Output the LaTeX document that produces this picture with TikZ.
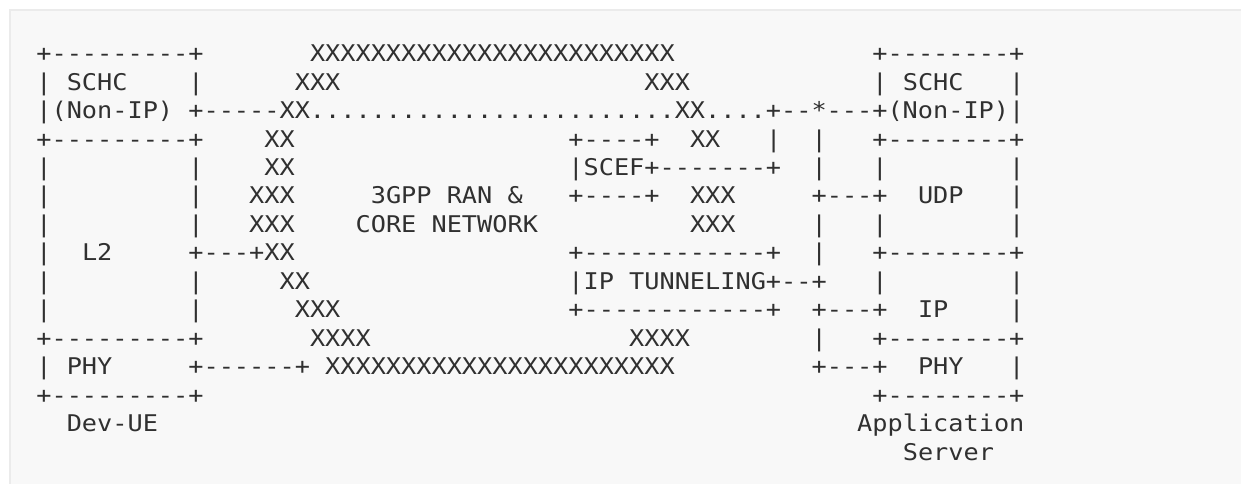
\documentclass[tikz,border=0pt]{standalone}
\usepackage{fontspec}
\setmonofont{DejaVu Sans Mono}[FakeStretch=1.0977]
\definecolor{fg}{HTML}{303030}
\definecolor{bg}{HTML}{F8F8F8}
\definecolor{frame}{HTML}{EBEBEB}
\tikzset{
  txt/.style={anchor=base west, inner sep=0pt, outer sep=0pt, text=fg,
    font=\ttfamily\fontsize{23}{28}\selectfont},
}
\newcommand\asc[4]{\node[txt] (#1) at ({36.4+15.2*#3},{61.7+28.45*(#2-1)}) {#4};}
\begin{document}
\begin{tikzpicture}[x=1pt,y=-1pt]
\path[use as bounding box] (0,0) rectangle (1241,484);
\fill[white] (0,0) rectangle (1241,484);
\draw[frame, line width=1.5pt, fill=bg] (10,10) rectangle (1260,500);
% row 1
\asc{a1}{1}{0}{+---------+}
\asc{b1}{1}{18}{XXXXXXXXXXXXXXXXXXXXXXXX}
\asc{c1}{1}{55}{+--------+}
% row 2
\asc{a2}{2}{0}{| SCHC}
\asc{a2r}{2}{10}{|}
\asc{b2}{2}{17}{XXX}
\asc{c2}{2}{40}{XXX}
\asc{d2}{2}{55}{| SCHC}
\asc{d2r}{2}{64}{|}
% row 3
\asc{a3}{3}{0}{|(Non-IP) +-----XX........................XX....+--*---+(Non-IP)|}
% row 4
\asc{a4}{4}{0}{+---------+}
\asc{b4}{4}{15}{XX}
\asc{c4}{4}{35}{+----+}
\asc{d4}{4}{43}{XX}
\asc{e4}{4}{48}{|}
\asc{f4}{4}{51}{|}
\asc{g4}{4}{55}{+--------+}
% row 5
\asc{a5}{5}{0}{|}
\asc{a5r}{5}{10}{|}
\asc{b5}{5}{15}{XX}
\asc{c5}{5}{35}{|SCEF+-------+}
\asc{f5}{5}{51}{|}
\asc{g5}{5}{55}{|}
\asc{g5r}{5}{64}{|}
% row 6
\asc{a6}{6}{0}{|}
\asc{a6r}{6}{10}{|}
\asc{b6}{6}{14}{XXX}
\asc{t6}{6}{22}{3GPP RAN \&}
\asc{c6}{6}{35}{+----+}
\asc{d6}{6}{43}{XXX}
\asc{f6}{6}{51}{+---+}
\asc{g6}{6}{58}{UDP}
\asc{g6r}{6}{64}{|}
% row 7
\asc{a7}{7}{0}{|}
\asc{a7r}{7}{10}{|}
\asc{b7}{7}{14}{XXX}
\asc{t7}{7}{21}{CORE NETWORK}
\asc{d7}{7}{43}{XXX}
\asc{f7}{7}{51}{|}
\asc{g7}{7}{55}{|}
\asc{g7r}{7}{64}{|}
% row 8
\asc{a8}{8}{0}{|}
\asc{l8}{8}{3}{L2}
\asc{a8r}{8}{10}{+---+XX}
\asc{c8}{8}{35}{+------------+}
\asc{f8}{8}{51}{|}
\asc{g8}{8}{55}{+--------+}
% row 9
\asc{a9}{9}{0}{|}
\asc{a9r}{9}{10}{|}
\asc{b9}{9}{16}{XX}
\asc{c9}{9}{35}{|IP TUNNELING+--+}
\asc{g9}{9}{55}{|}
\asc{g9r}{9}{64}{|}
% row 10
\asc{a10}{10}{0}{|}
\asc{a10r}{10}{10}{|}
\asc{b10}{10}{17}{XXX}
\asc{c10}{10}{35}{+------------+}
\asc{f10}{10}{51}{+---+}
\asc{g10}{10}{58}{IP}
\asc{g10r}{10}{64}{|}
% row 11
\asc{a11}{11}{0}{+---------+}
\asc{b11}{11}{18}{XXXX}
\asc{d11}{11}{39}{XXXX}
\asc{f11}{11}{51}{|}
\asc{g11}{11}{55}{+--------+}
% row 12
\asc{a12}{12}{0}{| PHY}
\asc{b12}{12}{10}{+------+ XXXXXXXXXXXXXXXXXXXXXXX}
\asc{f12}{12}{51}{+---+}
\asc{g12}{12}{58}{PHY}
\asc{g12r}{12}{64}{|}
% row 13
\asc{a13}{13}{0}{+---------+}
\asc{g13}{13}{55}{+--------+}
% row 14-15
\asc{devue}{14}{2}{Dev-UE}
\asc{app}{14}{54}{Application}
\asc{srv}{15}{57}{Server}
\end{tikzpicture}
\end{document}
